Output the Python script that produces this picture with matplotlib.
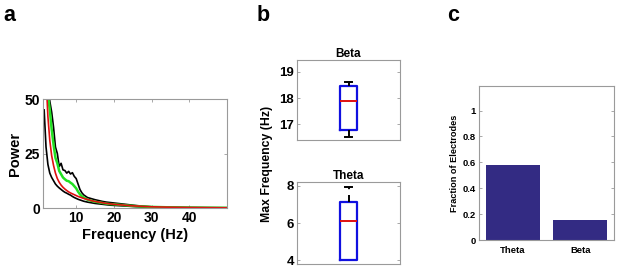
import matplotlib.pyplot as plt
import numpy as np

plt.rcParams['font.family'] = ['Liberation Sans', 'DejaVu Sans']
plt.rcParams['font.weight'] = 'bold'
plt.rcParams['axes.labelweight'] = 'bold'
plt.rcParams['axes.titleweight'] = 'bold'

# panel a: power spectra
freqs = [1.5, 2, 2.5, 3, 3.5, 4, 4.5, 5, 5.5, 6, 6.5, 7, 7.5, 8, 8.5, 9, 9.5, 10,
         10.5, 11, 11.5, 12, 13, 14, 15, 16, 17, 18, 19, 20, 22, 24, 26, 28, 30,
         35, 40, 45, 50]
power_upper = [80, 70, 60, 49, 44, 37, 28, 25, 19, 20.5, 17.5, 17.2, 16, 16.8, 15.6,
               16.2, 14.5, 13.5, 11, 8.5, 7, 6, 4.8, 4.3, 3.8, 3.4, 3.0, 2.7, 2.5,
               2.3, 1.9, 1.5, 1.1, 0.8, 0.55, 0.3, 0.2, 0.15, 0.1]
power_mean = [75, 62, 52, 45, 36, 29, 23, 20.5, 17, 15.5, 14, 13.2, 12.5, 12.3, 11.6,
              11, 10, 9, 7.5, 6.3, 5.4, 4.8, 3.8, 3.3, 2.9, 2.6, 2.3, 2.0, 1.8, 1.7,
              1.4, 1.1, 0.85, 0.65, 0.5, 0.3, 0.18, 0.12, 0.08]
power_fit = [90, 60, 42, 31, 24, 19.5, 16, 13.5, 11.8, 10.5, 9.5, 8.7, 8.0, 7.4, 6.9,
             6.5, 6.1, 5.7, 5.3, 5.0, 4.7, 4.4, 3.9, 3.4, 3.0, 2.7, 2.4, 2.1, 1.9,
             1.7, 1.4, 1.1, 0.9, 0.7, 0.55, 0.35, 0.22, 0.15, 0.1]
power_lower = [45, 28, 20, 16, 14, 12.5, 11, 10, 9.2, 8.5, 7.8, 7.2, 6.8, 6.3, 5.9,
               5.3, 4.8, 4.4, 4.0, 3.7, 3.4, 3.1, 2.7, 2.4, 2.1, 1.9, 1.7, 1.5, 1.3,
               1.2, 1.0, 0.8, 0.6, 0.45, 0.35, 0.2, 0.12, 0.08, 0.05]

# panel b: box stats of max frequency
beta_stats = dict(whislo=16.5, q1=16.8, med=17.9, q3=18.45, whishi=18.6)
theta_stats = dict(whislo=4.0, q1=4.0, med=6.1, q3=7.15, whishi=7.95)

# panel c: fraction of electrodes
bands = ['Theta', 'Beta']
fractions = [0.58, 0.155]

W, H = 617, 269
fig = plt.figure(figsize=(W / 100, H / 100), dpi=100)


def frac(l, t, r, b):
    return [l / W, 1 - b / H, (r - l) / W, (b - t) / H]


def style(ax, size):
    for s in ax.spines.values():
        s.set_color('#9a9a9a')
        s.set_linewidth(0.8)
    ax.tick_params(direction='in', top=True, right=True, length=2.5,
                   width=0.6, color='#9a9a9a', labelsize=size, pad=2)


# ---- a
ax1 = fig.add_axes(frac(43, 99, 227, 208))
ax1.plot(freqs, power_lower, color='black', lw=1.2)
ax1.plot(freqs, power_upper, color='black', lw=1.2)
ax1.plot(freqs, power_mean, color='#22e022', lw=1.8)
ax1.plot(freqs, power_fit, color='#e01010', lw=1.2)
ax1.set_xlim(1.2, 50)
ax1.set_ylim(0, 50)
ax1.set_xticks([10, 20, 30, 40])
ax1.set_yticks([0, 25, 50])
style(ax1, 10)
ax1.set_xlabel('Frequency (Hz)', fontsize=10.5, labelpad=2)
ax1.set_ylabel('Power', fontsize=10.5, labelpad=2)

# ---- b
ax2 = fig.add_axes(frac(297, 60, 400, 140))
ax3 = fig.add_axes(frac(297, 182, 400, 264))
for ax, st, title, lim, ticks in [(ax2, beta_stats, 'Beta', (16.4, 19.45), [17, 18, 19]),
                                  (ax3, theta_stats, 'Theta', (3.8, 8.2), [4, 6, 8])]:
    b = ax.bxp([dict(st, fliers=[])], positions=[1], widths=0.165, capwidths=0.07,
               showfliers=False,
               boxprops=dict(color='#1010e0', lw=1.6),
               medianprops=dict(color='#e01010', lw=1.4),
               whiskerprops=dict(color='black', lw=1.4, linestyle=(0, (3.6, 3))),
               capprops=dict(color='black', lw=1.4))
    if st['whislo'] == st['q1']:
        b['caps'][0].set_visible(False)
    ax.set_xlim(0.5, 1.5)
    ax.set_ylim(*lim)
    ax.set_yticks(ticks)
    ax.set_xticks([])
    style(ax, 9.5)
    ax.set_title(title, fontsize=8.5, pad=2)
fig.text(267 / W, 1 - 164 / H, 'Max Frequency (Hz)', rotation=90, fontsize=8.8,
         ha='center', va='center', fontweight='bold')

# ---- c
ax4 = fig.add_axes(frac(479, 86, 614, 240))
ax4.bar([1, 2], fractions, width=0.8, color='#332b83')
ax4.set_xlim(0.5, 2.5)
ax4.set_ylim(0, 1.19)
ax4.set_xticks([1, 2])
ax4.set_xticklabels(bands)
ax4.set_yticks([0, 0.2, 0.4, 0.6, 0.8, 1])
ax4.set_yticklabels(['0', '0.2', '0.4', '0.6', '0.8', '1'])
style(ax4, 6.8)
ax4.tick_params(axis='x', top=False, length=0, pad=4)
ax4.set_ylabel('Fraction of Electrodes', fontsize=6.6, labelpad=3)

# panel letters
for x, letter in [(3, 'a'), (257, 'b'), (447, 'c')]:
    fig.text(x / W, 1 - 21 / H, letter, fontsize=15.5, fontweight='bold')

fig.savefig('out.png', dpi=100)
